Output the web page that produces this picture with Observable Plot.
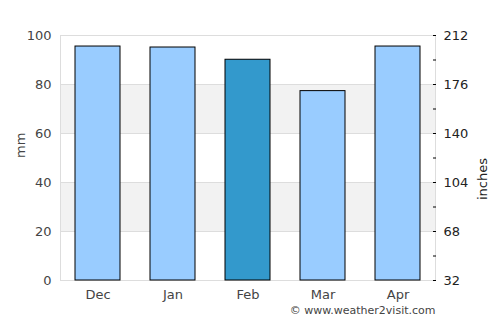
<!DOCTYPE html>
<html><head><meta charset="utf-8">
<script src="https://cdn.jsdelivr.net/npm/d3@7"></script>
<script src="https://cdn.jsdelivr.net/npm/@observablehq/plot@0.6"></script>
<style>body{margin:0;background:#fff;} svg{display:block;}</style>
</head><body><div id="chart"></div>
<script>
const months = ["Dec", "Jan", "Feb", "Mar", "Apr"];
const rainfall = [95.5, 95.1, 90.1, 77.3, 95.5];
const highlight = "Feb";
const mmTicks = [0, 20, 40, 60, 80, 100];
const inchLabels = [32, 68, 104, 140, 176, 212];
const minorTicks = [10, 30, 50, 70, 90];
const bandStarts = [20, 60];
const bandEnds = [40, 80];

const data = months.map((m, i) => ({month: m, value: rainfall[i]}));
const bands = bandStarts.map((s, i) => ({y1: s, y2: bandEnds[i]}));
const font = "DejaVu Sans, sans-serif";

const chart = Plot.plot({
  width: 500, height: 325,
  marginLeft: 60, marginRight: 65, marginTop: 35, marginBottom: 45,
  style: {fontFamily: font, fontSize: "13px", background: "#fff", color: "#444"},
  x: {domain: months, paddingInner: 0.4, paddingOuter: 0.2, label: null},
  y: {domain: [0, 100], label: null},
  marks: [
    Plot.rectY(bands, {y1: "y1", y2: "y2", fill: "#f2f2f2"}),
    Plot.ruleY(mmTicks, {stroke: "#dddddd"}),
    Plot.frame({stroke: "#dddddd"}),
    Plot.barY(data, {x: "month", y: "value", fill: d => d.month === highlight ? "#3399cc" : "#99ccff", stroke: "#000", strokeWidth: 1}),
    Plot.axisX({tickSize: 0, tickPadding: 9, fill: "#444", fontSize: 13, label: null}),
    Plot.axisY({ticks: mmTicks, tickSize: 0, tickPadding: 9, fill: "#444", fontSize: 13, label: null}),
    Plot.axisY({anchor: "right", ticks: [...mmTicks, ...minorTicks], tickSize: 3, dx: -3, tickFormat: () => "", stroke: "#000", label: null}),
    Plot.axisY({anchor: "right", ticks: mmTicks, tickSize: 0, tickPadding: 8, tickFormat: (d) => inchLabels[mmTicks.indexOf(d)], fill: "#222", fontSize: 13, label: null}),
    Plot.text(["mm"], {frameAnchor: "left", dx: -40, rotate: -90, fill: "#444", fontSize: 13}),
    Plot.text(["inches"], {frameAnchor: "right", dx: 47, rotate: -90, fill: "#222", fontSize: 13}),
    Plot.text(["© www.weather2visit.com"], {frameAnchor: "bottom-right", dy: 33, textAnchor: "end", fill: "#444", fontSize: 11})
  ]
});
document.getElementById("chart").appendChild(chart);
</script>
</body></html>
